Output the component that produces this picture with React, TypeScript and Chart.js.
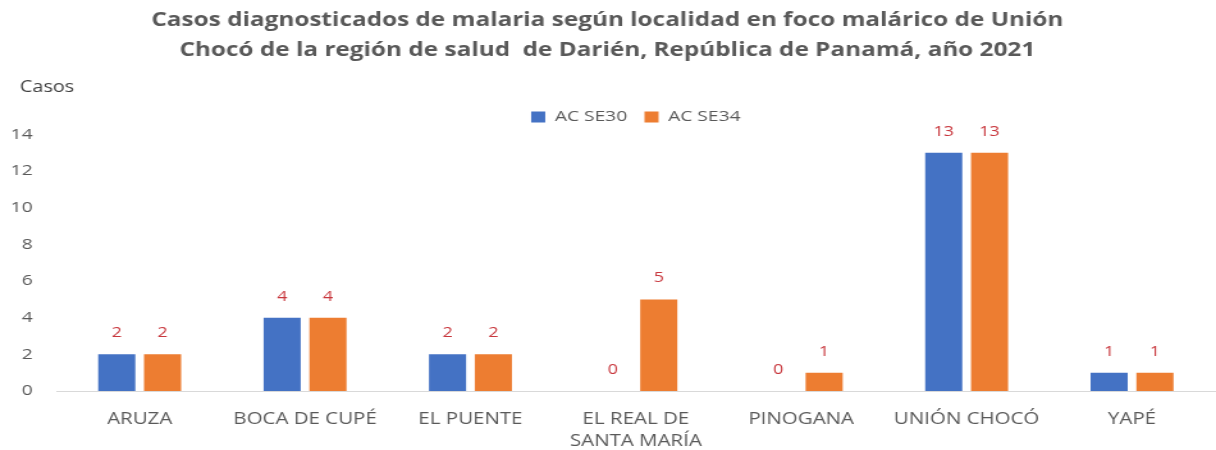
import React, { useEffect, useRef } from "react";
import { Chart, registerables } from "chart.js";

Chart.register(...registerables);

// Localities and weekly accumulated malaria cases
const localidades: (string | string[])[] = [
  "ARUZA",
  "BOCA DE CUPÉ",
  "EL PUENTE",
  ["EL REAL DE", "SANTA MARÍA"],
  "PINOGANA",
  "UNIÓN CHOCÓ",
  "YAPÉ",
];
const casosSE30 = [2, 4, 2, 0, 0, 13, 1];
const casosSE34 = [2, 4, 2, 5, 1, 13, 1];
const serieNombres = ["AC SE30", "AC SE34"];
const serieColores = ["#4472C4", "#ED7D31"];
const tituloLineas = [
  "Casos diagnosticados de malaria según localidad en foco malárico de Unión",
  "Chocó de la región de salud  de Darién, República de Panamá, año 2021",
];
const ejeYTitulo = "Casos";
const ejeYMax = 14;
const ejeYPaso = 2;

const FONT = "'Open Sans', 'DejaVu Sans', sans-serif";
const GRIS = "#595959";

// Drawing buffer is narrower than the displayed canvas, giving the wide look
const BUF_W = 950;
const BUF_H = 450;

const valueLabels = {
  id: "valueLabels",
  afterDatasetsDraw(chart: any) {
    const ctx = chart.ctx;
    ctx.save();
    ctx.font = `14px ${FONT}`;
    ctx.fillStyle = "#C8373D";
    ctx.textAlign = "center";
    ctx.textBaseline = "middle";
    chart.data.datasets.forEach((ds: any, i: number) => {
      const meta = chart.getDatasetMeta(i);
      meta.data.forEach((bar: any, j: number) => {
        ctx.fillText(String(ds.data[j]), bar.x, bar.y - 21);
      });
    });
    ctx.restore();
  },
};

const axisCaption = {
  id: "axisCaption",
  afterDraw(chart: any) {
    const ctx = chart.ctx;
    ctx.save();
    ctx.font = `15.5px ${FONT}`;
    ctx.fillStyle = "#404040";
    ctx.textAlign = "left";
    ctx.textBaseline = "middle";
    ctx.fillText(ejeYTitulo, 15.5, 88);
    ctx.restore();
  },
};

export default function App() {
  const ref = useRef<HTMLCanvasElement | null>(null);

  useEffect(() => {
    document.body.style.margin = "0";
    const canvas = ref.current!;
    const chart = new Chart(canvas, {
      type: "bar",
      data: {
        labels: localidades,
        datasets: [
          {
            label: serieNombres[0],
            data: casosSE30,
            backgroundColor: serieColores[0],
            categoryPercentage: 0.554,
            barPercentage: 0.81,
          },
          {
            label: serieNombres[1],
            data: casosSE34,
            backgroundColor: serieColores[1],
            categoryPercentage: 0.554,
            barPercentage: 0.81,
          },
        ],
      },
      options: {
        responsive: false,
        animation: false,
        devicePixelRatio: 1,
        layout: { padding: { top: 0, left: 0, right: 1, bottom: 0 } },
        plugins: {
          title: {
            display: true,
            text: tituloLineas,
            color: GRIS,
            font: { family: FONT, size: 19, weight: "bold", lineHeight: 30 / 19 },
            padding: { top: 6, bottom: 30 },
          },
          legend: {
            display: true,
            position: "top",
            fullSize: false,
            labels: {
              color: GRIS,
              font: { family: FONT, size: 15 },
              boxWidth: 11,
              boxHeight: 11,
              padding: 13.5,
            },
          },
          tooltip: { enabled: false },
        },
        scales: {
          x: {
            grid: { display: false, drawTicks: false },
            border: { display: true, color: "#D9D9D9", width: 1 },
            ticks: {
              color: GRIS,
              font: { family: FONT, size: 16, lineHeight: 1.375 },
              padding: 17,
              maxRotation: 0,
              autoSkip: false,
            },
            afterFit(scale: any) {
              scale.height = 59;
            },
          },
          y: {
            min: 0,
            max: ejeYMax,
            grid: { display: false, drawTicks: false },
            border: { display: false },
            ticks: {
              stepSize: ejeYPaso,
              color: GRIS,
              font: { family: FONT, size: 15 },
              padding: 19,
            },
            afterFit(scale: any) {
              scale.width = 44.5;
            },
          },
        },
      },
      plugins: [valueLabels, axisCaption],
    });
    return () => chart.destroy();
  }, []);

  return (
    <canvas
      ref={ref}
      width={BUF_W}
      height={BUF_H}
      style={{ display: "block", width: "1216px", height: "450px" }}
    />
  );
}
